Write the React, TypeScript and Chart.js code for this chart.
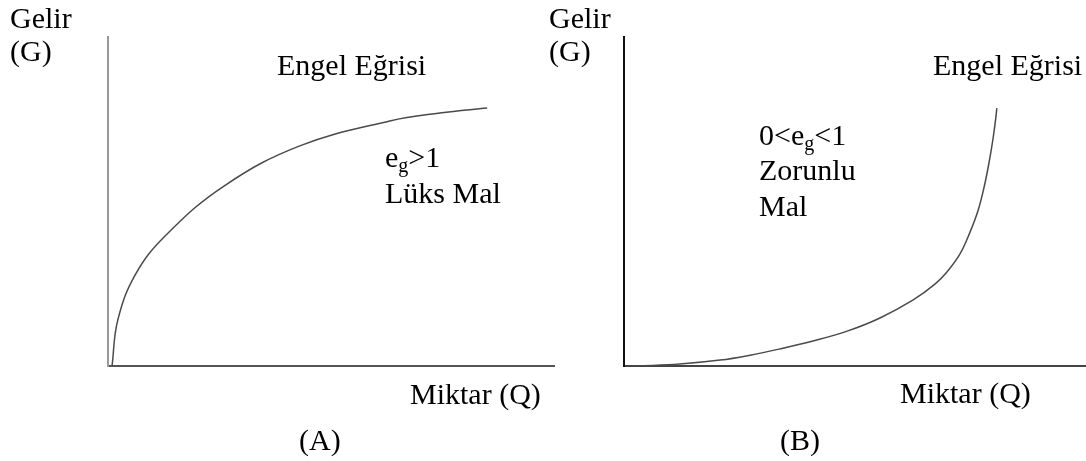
import React, { useEffect, useRef } from "react";
import { Chart, registerables } from "chart.js";

Chart.register(...registerables);

// Engel curves: income (G) against quantity (Q)
const luxuryQ = [0.09, 0.22, 0.61, 1.28, 2.6, 4.3, 6.32, 7.44, 8.5];
const luxuryG = [0, 1.4, 2.77, 3.95, 5.47, 6.69, 7.45, 7.69, 7.84];

const necessityQ = [0.28, 1.21, 2.08, 2.73, 3.38, 4.09, 4.83, 5.54, 6.26, 6.73, 6.99, 7.27, 7.49, 7.66, 7.79, 7.9, 7.99, 8.05, 8.07];
const necessityG = [0, 0.06, 0.18, 0.33, 0.52, 0.76, 1.06, 1.46, 2.01, 2.49, 2.86, 3.4, 4.07, 4.71, 5.41, 6.17, 6.93, 7.57, 7.84];

const yAxisTitle = ["Gelir", "(G)"];
const xAxisTitle = "Miktar (Q)";
const curveTitle = "Engel Eğrisi";
const panelLabels = ["(A)", "(B)"];
const luxuryNote = ["e", "g", ">1", "Lüks Mal"];
const necessityNote = ["0<e", "g", "<1", "Zorunlu", "Mal"];

const FONT = '"Liberation Serif", serif';
const BASE = 22; // font size used for layout; scaled up to the drawn size
const SIZE = 30;
const K = SIZE / BASE;
const ASCENT = 25; // baseline offset from the top of a label at the drawn size

type Padding = { left: number; right: number; top: number; bottom: number };

function PanelChart(props: {
  q: number[];
  g: number[];
  left: number;
  width: number;
  padding: Padding;
  xColor: string;
  yColor: string;
}) {
  const { q, g, left, width, padding, xColor, yColor } = props;
  const ref = useRef<HTMLCanvasElement | null>(null);
  useEffect(() => {
    if (!ref.current) return;
    const points = q.map((v, i) => ({ x: v, y: g[i] }));
    const axis = (color: string) => ({
      type: "linear" as const,
      min: 0,
      max: 10,
      ticks: { display: false },
      grid: { display: false, drawTicks: false, tickLength: 0 },
      border: { display: true, color, width: 2 },
    });
    const chart = new Chart(ref.current, {
      type: "scatter",
      data: {
        datasets: [
          {
            data: points,
            showLine: true,
            borderColor: "#4a4a4a",
            borderWidth: 1.5,
            pointRadius: 0,
            tension: 0.4,
            fill: false,
          },
        ],
      },
      options: {
        animation: false,
        responsive: false,
        maintainAspectRatio: false,
        layout: { padding },
        plugins: { legend: { display: false }, tooltip: { enabled: false } },
        scales: { x: axis(xColor), y: axis(yColor) },
      },
    });
    return () => chart.destroy();
  }, [q, g, padding, xColor, yColor]);
  return (
    <canvas
      ref={ref}
      width={width}
      height={461}
      style={{ position: "absolute", left, top: 0, width, height: 461 }}
    />
  );
}

// Text placed by its left edge and baseline
function Label(props: { x: number; y: number; children: React.ReactNode }) {
  const { x, y, children } = props;
  return (
    <div
      style={{
        position: "absolute",
        left: x,
        top: y - ASCENT,
        fontFamily: FONT,
        fontSize: BASE,
        lineHeight: `${BASE}px`,
        color: "#000",
        whiteSpace: "nowrap",
        transform: `scale(${K})`,
        transformOrigin: "0 0",
      }}
    >
      {children}
    </div>
  );
}

function Sub({ children }: { children: React.ReactNode }) {
  return <span style={{ fontSize: 20 / K, position: "relative", top: 5 / K, lineHeight: 0 }}>{children}</span>;
}

const padA: Padding = { left: 108, right: 6, top: 37, bottom: 95 };
const padB: Padding = { left: 84, right: 0, top: 37, bottom: 95 };

export default function App() {
  return (
    <div style={{ position: "fixed", left: 0, top: 0, width: 1086, height: 461, background: "#fff", overflow: "hidden" }}>
      <PanelChart q={luxuryQ} g={luxuryG} left={0} width={560} padding={padA} xColor="#555" yColor="#999" />
      <PanelChart q={necessityQ} g={necessityG} left={540} width={546} padding={padB} xColor="#444" yColor="#111" />

      <Label x={10} y={28}>{yAxisTitle[0]}</Label>
      <Label x={10} y={61}>{yAxisTitle[1]}</Label>
      <Label x={277} y={75}>{curveTitle}</Label>
      <Label x={385} y={167}>
        {luxuryNote[0]}
        <Sub>{luxuryNote[1]}</Sub>
        {luxuryNote[2]}
      </Label>
      <Label x={385} y={203}>{luxuryNote[3]}</Label>
      <Label x={410} y={404}>{xAxisTitle}</Label>
      <Label x={299} y={450}>{panelLabels[0]}</Label>

      <Label x={549} y={28}>{yAxisTitle[0]}</Label>
      <Label x={549} y={61}>{yAxisTitle[1]}</Label>
      <Label x={933} y={75}>{curveTitle}</Label>
      <Label x={759} y={145}>
        {necessityNote[0]}
        <Sub>{necessityNote[1]}</Sub>
        {necessityNote[2]}
      </Label>
      <Label x={759} y={180}>{necessityNote[3]}</Label>
      <Label x={759} y={216}>{necessityNote[4]}</Label>
      <Label x={900} y={403}>{xAxisTitle}</Label>
      <Label x={780} y={450}>{panelLabels[1]}</Label>
    </div>
  );
}
